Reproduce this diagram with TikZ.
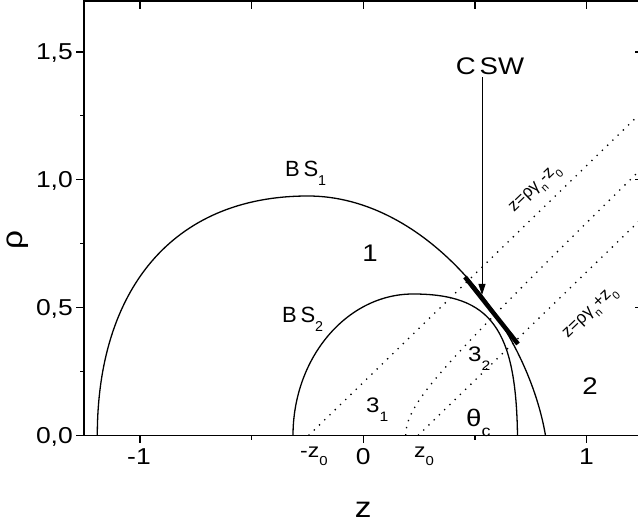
\documentclass[tikz,border=0pt]{standalone}
\usepackage{fontspec}
\setmainfont{Liberation Sans}
\newfontfamily\wide{Liberation Sans}[FakeStretch=1.15]
\usetikzlibrary{arrows.meta}
\newcommand\fsz[1]{\fontsize{#1}{#1}\selectfont}
\newcommand\sbx[1]{\raisebox{-0.4em}{\scalebox{0.65}{#1}}}
\begin{document}
\begin{tikzpicture}[x=1pt,y=-1pt,
  frame/.style={line width=1.4pt},
  tickline/.style={line width=1.2pt},
  curve/.style={line width=1.3pt},
  dotl/.style={line width=1.3pt,dash pattern=on 1.3pt off 6pt},
  txt/.style={inner sep=0pt,font=\fsz{#1}},
  txt/.default=22,
  wtxt/.style={inner sep=0pt,font=\wide\fsz{#1}},
  wtxt/.default=23,
  ptr/.style={line width=0.9pt,-{Triangle[length=11pt,width=7pt]}},
  thickseg/.style={line width=4.5pt}]
\useasboundingbox (0,0) rectangle (638,526);
% frame
\draw[frame] (84.1,1) rectangle (642.5,435.5);
% ticks
\foreach \z in {-1,0,1}{
  \draw[tickline] ({363.3+223.3*\z},435.5) -- ++(0,8);
  \draw[tickline] ({363.3+223.3*\z},1) -- ++(0,8);
}
\foreach \z in {-0.5,0.5}{
  \draw[tickline] ({363.3+223.3*\z},435.5) -- ++(0,5);
  \draw[tickline] ({363.3+223.3*\z},1) -- ++(0,8);
}
\foreach \r in {0,0.5,1,1.5}{
  \draw[tickline] (84.1,{435.5-255.7*\r}) -- ++(-8,0);
  \draw[tickline] (642.5,{435.5-255.7*\r}) -- ++(-8,0);
}
\foreach \r in {0.25,0.75,1.25}{
  \draw[tickline] (84.1,{435.5-255.7*\r}) -- ++(-4,0);
  \draw[tickline] (642.5,{435.5-255.7*\r}) -- ++(-5,0);
}
% tick labels
\node[wtxt,anchor=base east] (y00) at (73,443.5) {0,0};
\node[wtxt,anchor=base east] (y05) at (73,315.6) {0,5};
\node[wtxt,anchor=base east] (y10) at (73,187.8) {1,0};
\node[wtxt,anchor=base east] (y15) at (73,60) {1,5};
\node[wtxt,anchor=base] (xm1) at (139,465) {-1};
\node[wtxt,anchor=base] (x0) at (363.3,465) {0};
\node[wtxt,anchor=base] (x1) at (586.6,465) {1};
% axis labels
\node[wtxt=29,anchor=base] (zlab) at (363.3,518) {z};
\node[wtxt=29,rotate=90] (rholab) at (18,240) {ρ};
% dotted lines
\begin{scope}
\clip (84.1,1) rectangle (642.5,435.5);
\begin{scope}[shift={(363.3,435.5)},x=223.3pt,y=255.7pt]
\draw[dotl] (-0.245,0) -- (1.35,1.352);
\draw[dotl] plot[variable=\r,domain=0:1.2,samples=80,smooth] ({sqrt(0.0361+1.3924*\r*\r)},\r);
\draw[dotl] (0.245,0) -- (1.35,0.936);
\end{scope}
\end{scope}
% boundary curves
\draw[curve] (97.3,435.5) .. controls (97.3,291.8) and (171,196) .. (308,196)
  .. controls (426.75,196) and (526.8,325.5) .. (545.5,435.5);
\draw[curve] (293,435.5) .. controls (293,357.7) and (347,294) .. (413,294)
  .. controls (491.4,294) and (516,329.4) .. (517.5,435.5);
% CSW segment and arrow
\coordinate (sa) at (465,277);
\coordinate (sb) at (518,344);
\draw[thickseg] (sa) -- (sb);
\node[wtxt=24,anchor=base] (csw) at (490,75) {C\,SW};
\coordinate (tip) at (482,295);
\draw[ptr] ([yshift=-2pt]tip |- csw.south) -- (tip);
% region labels
\node[txt=22,anchor=base west] (bs1) at (285,177) {B\,S\sbx{1}};
\node[txt=22,anchor=base west] (bs2) at (282,323) {B\,S\sbx{2}};
\node[wtxt=24,anchor=base] (r1) at (370,262) {1};
\node[wtxt=24,anchor=base] (r2) at (590,395) {2};
\node[wtxt=21,anchor=base west] (r31) at (366,413) {3\sbx{1}};
\node[wtxt=21,anchor=base west] (r32) at (468,362) {3\sbx{2}};
\node[wtxt=24,anchor=base west] (thc) at (466,427) {θ\sbx{c}};
\node[wtxt=20,anchor=base west] (mz0) at (300,458) {-z\sbx{0}};
\node[wtxt=20,anchor=base west] (pz0) at (414,458) {z\sbx{0}};
\node[txt=17,rotate=44] (lab1) at (536,190) {z=ργ\sbx{n}-z\sbx{0}};
\node[txt=17,rotate=44] (lab2) at (591,314) {z=ργ\sbx{n}+z\sbx{0}};
\end{tikzpicture}
\end{document}
